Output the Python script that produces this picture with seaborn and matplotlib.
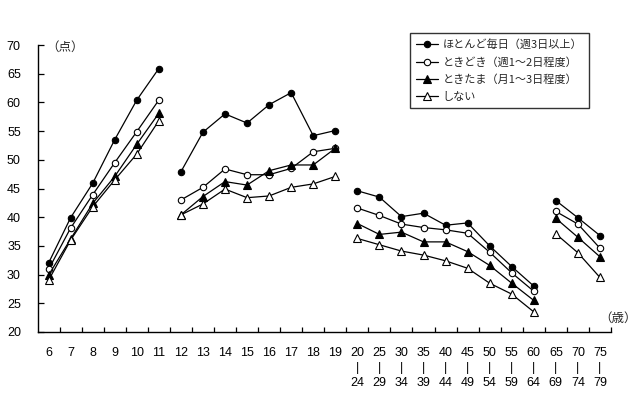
import matplotlib
matplotlib.use("Agg")
import matplotlib.pyplot as plt
import seaborn as sns
import pandas as pd
from matplotlib.lines import Line2D

# ---- data ----
ages_low = ["6", "7", "8", "9", "10", "11", "12", "13", "14", "15", "16", "17", "18", "19",
            "20", "25", "30", "35", "40", "45", "50", "55", "60", "65", "70", "75"]
ages_high = [""] * 14 + ["24", "29", "34", "39", "44", "49", "54", "59", "64", "69", "74", "79"]
groups = [0] * 6 + [1] * 8 + [2] * 9 + [3] * 3

series_names = ["ほとんど毎日（週3日以上）", "ときどき（週1～2日程度）",
                "ときたま（月1～3日程度）", "しない"]
daily = [32.0, 39.9, 45.9, 53.5, 60.4, 65.9, 47.9, 54.8, 58.0, 56.4, 59.6, 61.7, 54.2, 55.1,
         44.6, 43.5, 40.1, 40.7, 38.6, 39.0, 35.0, 31.4, 28.0, 42.9, 39.9, 36.8]
sometimes = [30.9, 38.1, 43.9, 49.5, 54.9, 60.4, 43.0, 45.2, 48.4, 47.4, 47.4, 48.5, 51.4, 52.0,
             41.6, 40.3, 38.8, 38.2, 37.8, 37.2, 33.9, 30.3, 27.1, 41.0, 38.8, 34.6]
occasionally = [29.9, 36.2, 42.4, 47.1, 52.7, 58.1, 40.4, 43.6, 46.2, 45.6, 48.1, 49.1, 49.1, 52.0,
                38.9, 37.0, 37.4, 35.7, 35.7, 34.0, 31.6, 28.5, 25.5, 39.8, 36.5, 33.1]
never = [29.0, 36.0, 41.8, 46.5, 51.0, 56.8, 40.4, 42.3, 44.9, 43.4, 43.7, 45.2, 45.8, 47.1,
         36.3, 35.2, 34.1, 33.4, 32.4, 31.1, 28.5, 26.6, 23.5, 37.1, 33.8, 29.5]
series_values = [daily, sometimes, occasionally, never]

# ---- style ----
sns.set_theme(style="white")
plt.rcParams["font.family"] = ["Liberation Sans", "Noto Sans CJK JP"]

markers = ["o", "o", "^", "^"]
facecolors = ["black", "white", "black", "white"]
msizes = [4.6, 4.6, 5.4, 5.4]

rows = []
for name, vals in zip(series_names, series_values):
    for i, v in enumerate(vals):
        rows.append({"series": name, "x": i, "y": v, "group": groups[i]})
df = pd.DataFrame(rows)

fig = plt.figure(figsize=(6.4, 3.94), dpi=100)
ax = fig.add_axes([37.5 / 640, 1 - 332 / 394, (611 - 37.5) / 640, (332 - 45) / 394])

for name, m, fc, ms in zip(series_names, markers, facecolors, msizes):
    for g in sorted(set(groups)):
        sub = df[(df["series"] == name) & (df["group"] == g)]
        sns.lineplot(data=sub, x="x", y="y", color="black", lw=0.9, marker=m,
                     markersize=ms, markerfacecolor=fc, markeredgecolor="black",
                     markeredgewidth=0.8, ax=ax, legend=False, zorder=3)

n = len(ages_low)
ax.set_xlim(-0.5, n - 0.5)
ax.set_ylim(20, 70)
ax.set_yticks(range(20, 71, 5))
ax.tick_params(axis="y", direction="in", length=4, width=0.9, labelsize=9, pad=12,
               color="black", labelcolor="black", left=True)

ax.set_xticks([i + 0.5 for i in range(n)])
ax.set_xticklabels([])
ax.tick_params(axis="x", which="major", direction="in", length=3.5, width=0.9,
               color="black", bottom=True)
labels = [lo if hi == "" else f"{lo}\n|\n{hi}" for lo, hi in zip(ages_low, ages_high)]
ax.set_xticks(range(n), minor=True)
ax.set_xticklabels(labels, minor=True, linespacing=1.35, va="top")
ax.tick_params(axis="x", which="minor", length=0, labelsize=9, pad=10.5, labelcolor="black")

for s in ["top", "right"]:
    ax.spines[s].set_visible(False)
for s in ["left", "bottom"]:
    ax.spines[s].set_color("black")
    ax.spines[s].set_linewidth(1.0)
ax.set_xlabel("")
ax.set_ylabel("")
ax.grid(False)

fig.text(65 / 640, 1 - 47 / 394, "（点）", ha="center", va="center", fontsize=9,
         family=["Noto Sans CJK JP"])
fig.text(618 / 640, 1 - 318 / 394, "（歳）", ha="center", va="center", fontsize=9,
         family=["Noto Sans CJK JP"])

handles = [Line2D([0], [0], color="black", lw=0.9, marker=m, markersize=ms,
                  markerfacecolor=fc, markeredgecolor="black", markeredgewidth=0.8)
           for m, fc, ms in zip(markers, facecolors, msizes)]
leg = fig.legend(handles, series_names, loc="upper left",
                 bbox_to_anchor=(410 / 640, 1 - 33 / 394), frameon=True, fancybox=False,
                 handlelength=2.0, handletextpad=0.4, labelspacing=0.62,
                 borderpad=0.55, borderaxespad=0, prop={"family": ["Noto Sans CJK JP"], "size": 8})
leg.get_frame().set_edgecolor("black")
leg.get_frame().set_linewidth(1.0)

fig.savefig("out.png", dpi=100, facecolor="white")
